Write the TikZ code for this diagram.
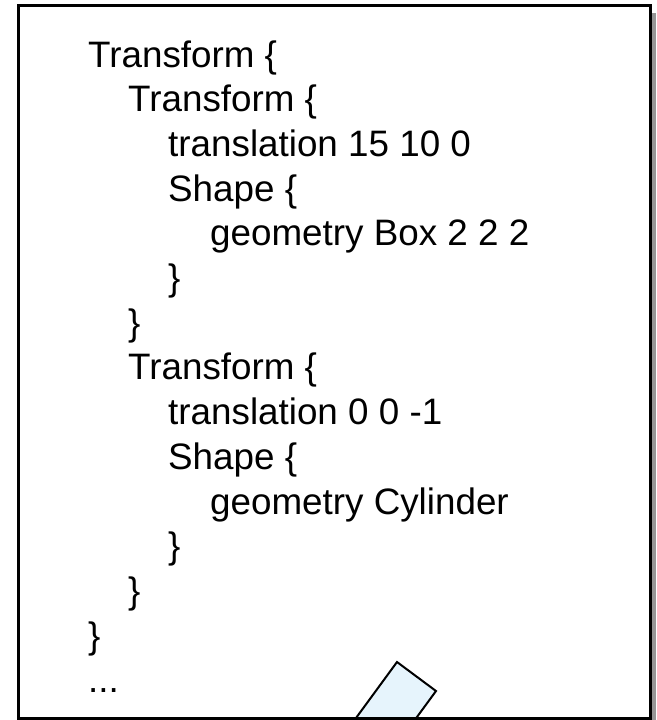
\documentclass[tikz,border=0pt]{standalone}
\usepackage{fontspec}
\setmainfont{Liberation Sans}
\usepackage{tikz}

\definecolor{shadowGray}{RGB}{150,150,150}
\definecolor{tabBlue}{RGB}{230,244,252}

\begin{document}
\begin{tikzpicture}[x = 1pt, y = -1pt]
\tikzstyle{codeLine} = [anchor = base west, inner sep = 0pt, font = \fontsize{36.8}{44.7}\selectfont]
\tikzstyle{frameStyle} = [draw, line width = 3pt]
\tikzstyle{tabStyle} = [draw, line width = 2pt, fill = tabBlue]
\useasboundingbox (0,0) rectangle (656,720);
\fill[shadowGray] (24,13) rectangle (656,727);
\fill[white] (18,5) rectangle (650,718);
\begin{scope}
\clip (18,5) rectangle (650,718);
\filldraw[tabStyle] (397,662) -- (436,691) -- (374.5,775) -- (335.5,746) -- cycle;
\end{scope}
\draw[frameStyle] (18,5) rectangle (650,718);
\node[codeLine] (l1) at (88,67) {Transform \{};
\node[codeLine] (l2) at (128,111.7) {Transform \{};
\node[codeLine] (l3) at (168,156.4) {translation 15 10 0};
\node[codeLine] (l4) at (168,201.1) {Shape \{};
\node[codeLine] (l5) at (210,245.8) {geometry Box 2 2 2};
\node[codeLine] (l6) at (168,290.5) {\}};
\node[codeLine] (l7) at (128,335.2) {\}};
\node[codeLine] (l8) at (128,379.9) {Transform \{};
\node[codeLine] (l9) at (168,424.6) {translation 0 0 -1};
\node[codeLine] (l10) at (168,469.3) {Shape \{};
\node[codeLine] (l11) at (210,514) {geometry Cylinder};
\node[codeLine] (l12) at (168,558.7) {\}};
\node[codeLine] (l13) at (128,603.4) {\}};
\node[codeLine] (l14) at (88,648.1) {\}};
\node[codeLine] (l15) at (88,692.8) {...};
\end{tikzpicture}
\end{document}
